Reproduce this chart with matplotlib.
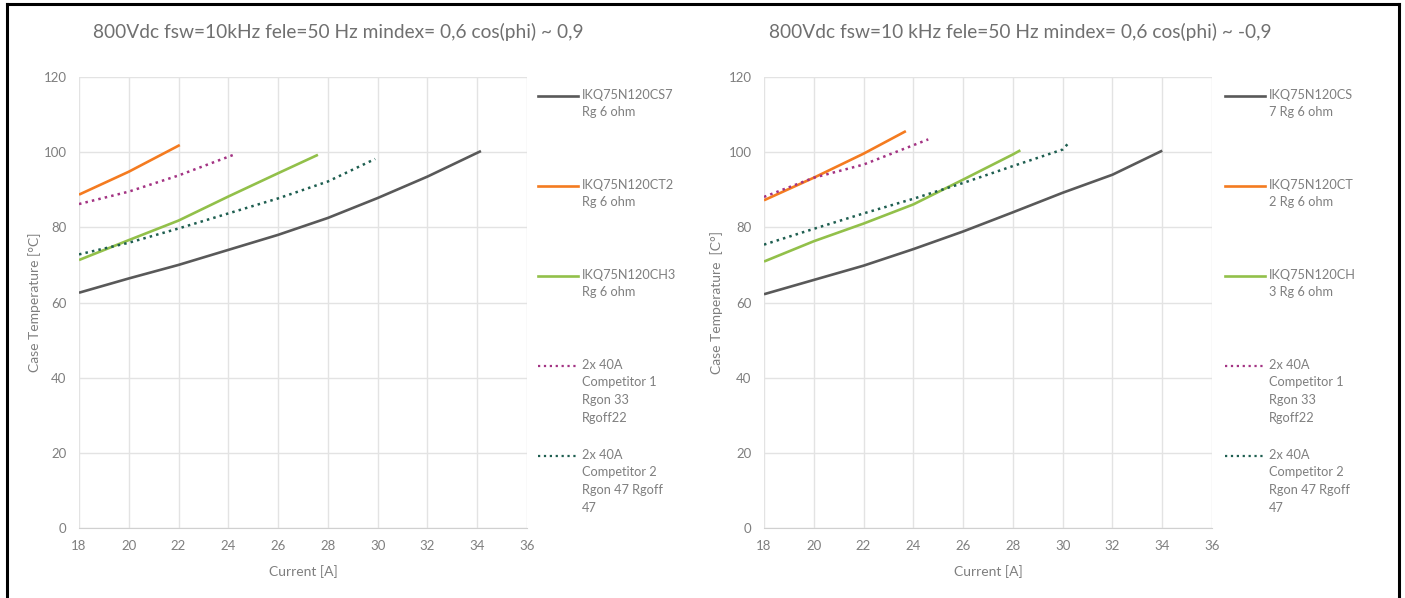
import matplotlib
matplotlib.use("Agg")
import matplotlib.pyplot as plt
from matplotlib.lines import Line2D

plt.rcParams['font.family'] = ['Lato', 'DejaVu Sans']

# ---- data ----
titles = ["800Vdc fsw=10kHz fele=50 Hz mindex= 0,6 cos(phi) ~ 0,9",
          "800Vdc fsw=10 kHz fele=50 Hz mindex= 0,6 cos(phi) ~ -0,9"]
ylabels = ["Case Temperature [°C]", "Case Temperature  [C°]"]

# left chart (cos(phi) ~ 0,9)
cs7_x_l = [18, 20, 22, 24, 26, 28, 30, 32, 34.15]
cs7_y_l = [62.6, 66.4, 70.0, 74.0, 78.0, 82.5, 87.8, 93.5, 100.3]
ct2_x_l = [18, 20, 22.05]
ct2_y_l = [88.7, 94.8, 101.9]
ch3_x_l = [18, 20, 22, 24, 26, 27.6]
ch3_y_l = [71.3, 76.6, 81.8, 88.2, 94.4, 99.3]
comp1_x_l = [18, 20, 22, 24.25]
comp1_y_l = [86.2, 89.5, 93.8, 99.4]
comp2_x_l = [18, 20, 22, 24, 26, 28, 29.9]
comp2_y_l = [72.8, 75.9, 79.7, 83.7, 87.7, 92.2, 98.2]

# right chart (cos(phi) ~ -0,9)
cs7_x_r = [18, 20, 22, 24, 26, 28, 30, 32, 34]
cs7_y_r = [62.2, 66.0, 69.8, 74.2, 78.9, 84.0, 89.2, 94.0, 100.4]
ct2_x_r = [18, 20, 22, 23.7]
ct2_y_r = [87.2, 93.2, 99.6, 105.6]
ch3_x_r = [18, 20, 22, 24, 26, 28, 28.3]
ch3_y_r = [70.9, 76.3, 81.0, 86.1, 92.7, 99.4, 100.5]
comp1_x_r = [18, 20, 22, 24.6]
comp1_y_r = [88.1, 93.2, 96.7, 103.4]
comp2_x_r = [18, 20, 22, 24, 26, 28, 30, 30.3]
comp2_y_r = [75.4, 79.6, 83.7, 87.6, 91.8, 96.3, 100.7, 102.9]

labels_l = ["IKQ75N120CS7\nRg 6 ohm", "IKQ75N120CT2\nRg 6 ohm", "IKQ75N120CH3\nRg 6 ohm",
            "2x 40A\nCompetitor 1\nRgon 33\nRgoff22", "2x 40A\nCompetitor 2\nRgon 47 Rgoff\n47"]
labels_r = ["IKQ75N120CS\n7 Rg 6 ohm", "IKQ75N120CT\n2 Rg 6 ohm", "IKQ75N120CH\n3 Rg 6 ohm",
            "2x 40A\nCompetitor 1\nRgon 33\nRgoff22", "2x 40A\nCompetitor 2\nRgon 47 Rgoff\n47"]

colors = ["#595959", "#F47B20", "#92C04A", "#A33383", "#1E5E50"]
styles = ["-", "-", "-", ":", ":"]

xticks = list(range(18, 37, 2))
yticks = list(range(0, 121, 20))

txt = "#7F7F7F"
grid = "#E3E3E3"

fig = plt.figure(figsize=(14.05, 5.98), dpi=100)

series_l = [(cs7_x_l, cs7_y_l), (ct2_x_l, ct2_y_l), (ch3_x_l, ch3_y_l),
            (comp1_x_l, comp1_y_l), (comp2_x_l, comp2_y_l)]
series_r = [(cs7_x_r, cs7_y_r), (ct2_x_r, ct2_y_r), (ch3_x_r, ch3_y_r),
            (comp1_x_r, comp1_y_r), (comp2_x_r, comp2_y_r)]

W, H = 1405, 598
panels = [(79, series_l, labels_l, 93, 35, 538), (764, series_r, labels_r, 769, 717, 1225)]

for i, (x0, series, labels, tx, ylx, legx) in enumerate(panels):
    ax = fig.add_axes([x0 / W, 70 / H, 448 / W, 451 / H])
    for (xs, ys), c, ls in zip(series, colors, styles):
        ax.plot(xs, ys, color=c, linestyle=ls, lw=1.9 if ls == "-" else 1.8,
                solid_capstyle='butt', solid_joinstyle='round')
    ax.set_xlim(18, 36)
    ax.set_ylim(0, 120)
    ax.set_xticks(xticks)
    ax.set_yticks(yticks)
    ax.grid(True, color=grid, lw=1)
    ax.set_axisbelow(True)
    for s in ["top", "right", "left"]:
        ax.spines[s].set_visible(False)
    ax.spines["bottom"].set_color("#D0D0D0")
    ax.tick_params(length=0, colors=txt, labelsize=9.5, pad=9)
    ax.set_xlabel("Current [A]", color=txt, fontsize=10, labelpad=9)
    fig.text(ylx / W, 1 - 302 / H, ylabels[i], rotation=90, color=txt,
             fontsize=10, ha='center', va='center')
    fig.text(tx / W, 1 - 32 / H, titles[i], color="#707070", fontsize=13.8,
             ha='left', va='center')
    # legend drawn by hand to follow the reference layout
    for k, (lab, c, ls) in enumerate(zip(labels, colors, styles)):
        yy = 1 - [96, 186, 276, 366, 456][k] / H
        fig.add_artist(Line2D([legx / W, (legx + 40) / W], [yy, yy], color=c,
                              linestyle=ls, lw=1.9 if ls == "-" else 1.6))
        fig.text((legx + 44) / W, yy + 7 / H, lab, color=txt, fontsize=9.2,
                 ha='left', va='top', linespacing=1.55)

# outer frame
fig.add_artist(Line2D([7 / W, 7 / W], [0, 1 - 4 / H], color="black", lw=2.2))
fig.add_artist(Line2D([7 / W, 1399 / W], [1 - 4 / H, 1 - 4 / H], color="black", lw=2.2))
fig.add_artist(Line2D([1399 / W, 1399 / W], [0, 1 - 4 / H], color="black", lw=2.2))

fig.savefig("out.png", dpi=100)
